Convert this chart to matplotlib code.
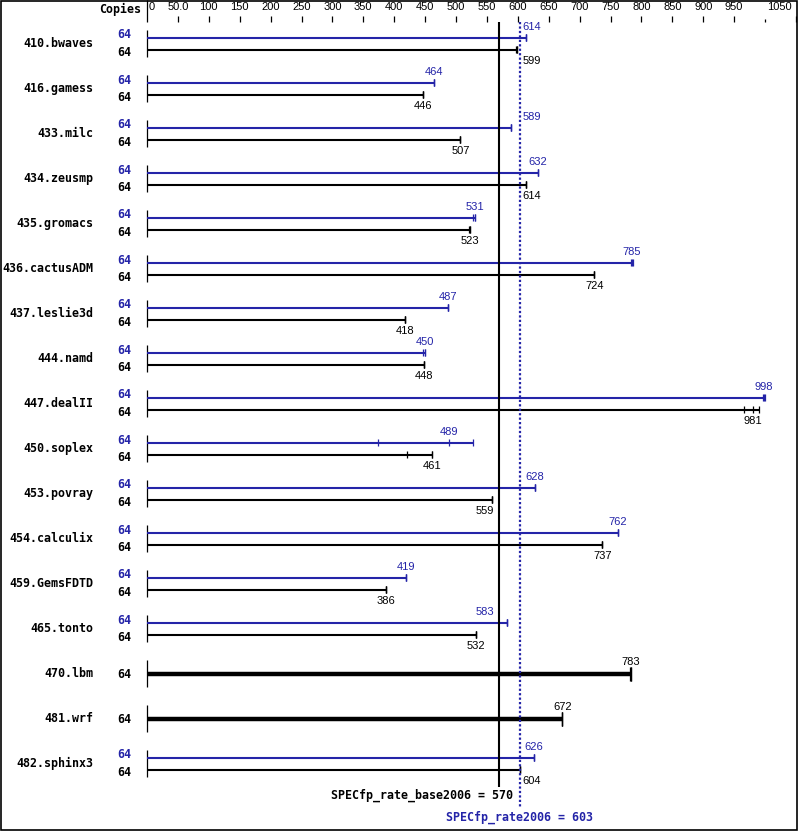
import numpy as np
import matplotlib.pyplot as plt
from matplotlib.patches import Rectangle

benchmarks = ['410.bwaves', '416.gamess', '433.milc', '434.zeusmp',
              '435.gromacs', '436.cactusADM', '437.leslie3d', '444.namd',
              '447.dealII', '450.soplex', '453.povray', '454.calculix',
              '459.GemsFDTD', '465.tonto', '470.lbm', '481.wrf', '482.sphinx3']
copies = [64] * 17

# per-run ratios (3 runs each); None = no peak result shown
peak_runs = [[614, 614, 614], [464, 464, 464], [589, 589, 589],
             [632, 632, 632], [528, 531, 531], [783, 785, 786],
             [487, 487, 487], [446, 450, 450], [996, 998, 1000],
             [373, 489, 527], [628, 628, 628], [762, 762, 762],
             [419, 419, 419], [583, 583, 583], None, None,
             [626, 626, 626]]
base_runs = [[597, 599, 599], [446, 446, 446], [507, 507, 507],
             [613, 614, 614], [521, 523, 523], [724, 724, 724],
             [418, 418, 418], [448, 448, 448], [966, 981, 991],
             [421, 461, 461], [558, 559, 559], [736, 737, 737],
             [386, 386, 386], [532, 532, 532], [782, 783, 783],
             [671, 672, 672], [604, 604, 604]]

base_score = 570
peak_score = 603

tick_values = list(range(0, 1100, 50))
tick_labels = ['0', '50.0'] + [str(v) for v in range(100, 1000, 50)] + ['', '1050']

BLUE = '#2424a8'
PX = 0.618      # pixels per unit
ORIGIN = 147    # pixel column of value 0
LBL = dict(family='Liberation Sans', fontsize=8)
MONO = dict(family='DejaVu Sans Mono', fontsize=8.4, fontweight='bold')


def value_label(ax, v, y, color):
    # keep the number clear of the two score lines
    d_base, d_peak = abs(v - base_score), abs(v - peak_score)
    if min(d_base, d_peak) < 17:
        if d_peak <= d_base:
            ax.text(peak_score + 3 / PX, y, str(v), ha='left', va='center', color=color, **LBL)
        else:
            ax.text(base_score - 5 / PX, y, str(v), ha='right', va='center', color=color, **LBL)
    else:
        ax.text(v, y, str(v), ha='center', va='center', color=color, **LBL)


def draw_bar(ax, y, runs, color, lw, tick_h, label_y):
    ax.hlines(y, 0, max(runs), color=color, lw=lw)
    ax.vlines(runs, y - tick_h, y + tick_h, color=color, lw=0.9)
    value_label(ax, int(np.median(runs)), label_y, color)


fig = plt.figure(figsize=(7.99, 8.31), dpi=100)
ax = fig.add_axes([0, 0, 1, 1])
ax.set_xlim(-ORIGIN / PX, (799 - ORIGIN) / PX)
ax.set_ylim(831, 0)
ax.axis('off')

# top scale
ax.vlines(0, 0, 22, color='black', lw=0.9)
for v, lab in zip(tick_values, tick_labels):
    top = 19 if lab == '' else 16
    if v > 0:
        ax.vlines(v, top, 22, color='black', lw=0.9)
    if lab == '0':
        ax.text(v + 2 / PX, 7, lab, ha='left', va='center', **LBL)
    elif v == tick_values[-1]:
        ax.text(v - 4 / PX, 7, lab, ha='right', va='center', **LBL)
    elif lab:
        ax.text(v, 7, lab, ha='center', va='center', **LBL)
ax.text(-6 / PX, 9, 'Copies', ha='right', va='center', **MONO)

for i, name in enumerate(benchmarks):
    c = 43.7 + 45 * i
    ax.vlines(0, c - 13.5, c + 13.5, color='black', lw=0.9)
    ax.text(-54 / PX, c, name, ha='right', va='center', **MONO)
    if peak_runs[i] is None:
        ax.text(-16 / PX, c + 0.5, str(copies[i]), ha='right', va='center', **MONO)
        draw_bar(ax, c, base_runs[i], 'black', 3.2, 7, c - 12)
    else:
        ax.text(-16 / PX, c - 8.7, str(copies[i]), ha='right', va='center', color=BLUE, **MONO)
        ax.text(-16 / PX, c + 9, str(copies[i]), ha='right', va='center', **MONO)
        draw_bar(ax, c - 6, peak_runs[i], BLUE, 1.5, 3.5, c - 17)
        draw_bar(ax, c + 5.8, base_runs[i], 'black', 1.5, 3.5, c + 17)

# overall scores
ax.vlines(base_score, 22, 787, color='black', lw=1.5)
ax.vlines(peak_score, 22, 808, color=BLUE, lw=1.6, linestyles=(0, (1, 1)))
ax.text(base_score + 14 / PX, 795, 'SPECfp_rate_base2006 = 570', ha='right', va='center', **MONO)
ax.text(peak_score, 817, 'SPECfp_rate2006 = 603', ha='center', va='center', color=BLUE, **MONO)

fig.add_artist(Rectangle((0.0008, 0.0012), 0.997, 0.9975, transform=fig.transFigure,
                         fill=False, edgecolor='black', lw=1.2))

fig.savefig('out.png', dpi=100)
